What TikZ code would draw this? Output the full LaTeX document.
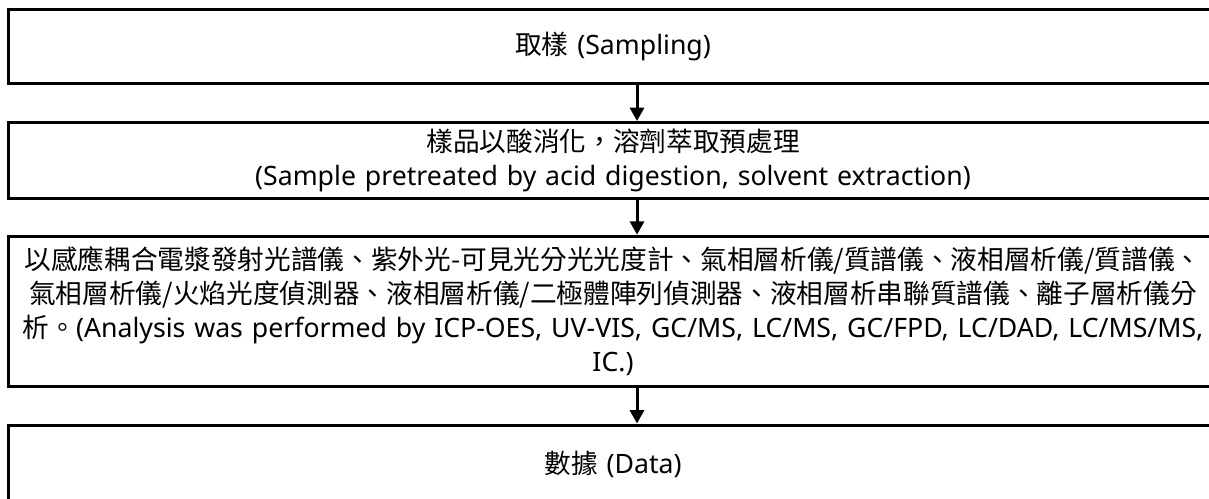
\documentclass[tikz,border=0pt]{standalone}
\usepackage{fontspec}
\setmainfont{Noto Sans}
\newfontfamily\cjkfont[Script=CJK,Language=Chinese Traditional]{Noto Sans CJK TC}
\usetikzlibrary{positioning,arrows.meta}
\tikzset{stepbox/.style={rectangle,draw=black,line width=2.25pt,minimum width=907.5pt,inner sep=0pt,align=center,text width=905pt,font=\fontsize{20}{25.5}\selectfont}}
\tikzset{arrow/.style={line width=2.25pt,-{Triangle[width=10.5pt,length=10pt]}}}

\begin{document}
\begin{tikzpicture}[x=0.75pt,y=-0.75pt]
\useasboundingbox (0,0) rectangle (1209,499);

\node (sampling) [stepbox, minimum height=55.5pt] at (613,46.5) {{\cjkfont 取樣} (Sampling)};
\node (pretreat) [stepbox, minimum height=57pt, below=27pt of sampling] {{\cjkfont 樣品以酸消化，溶劑萃取預處理}\\(Sample pretreated by acid digestion, solvent extraction)};
\node (analysis) [stepbox, minimum height=112.875pt, below=26pt of pretreat] {{\cjkfont 以感應耦合電漿發射光譜儀、紫外光-可見光分光光度計、氣相層析儀/質譜儀、液相層析儀/質譜儀、}\\{\cjkfont 氣相層析儀/火焰光度偵測器、液相層析儀/二極體陣列偵測器、液相層析串聯質譜儀、離子層析儀分}\\{\cjkfont 析。}(Analysis was performed by ICP-OES, UV-VIS, GC/MS, LC/MS, GC/FPD, LC/DAD, LC/MS/MS,\\IC.)};
\node (data) [stepbox, minimum height=58.5pt, below=26.5pt of analysis] {{\cjkfont 數據} (Data)};

\draw [arrow] ([xshift=18pt]sampling.south) -- ([xshift=18pt]pretreat.north);
\draw [arrow] ([xshift=18pt]pretreat.south) -- ([xshift=18pt]analysis.north);
\draw [arrow] ([xshift=18pt]analysis.south) -- ([xshift=18pt]data.north);

\end{tikzpicture}
\end{document}
